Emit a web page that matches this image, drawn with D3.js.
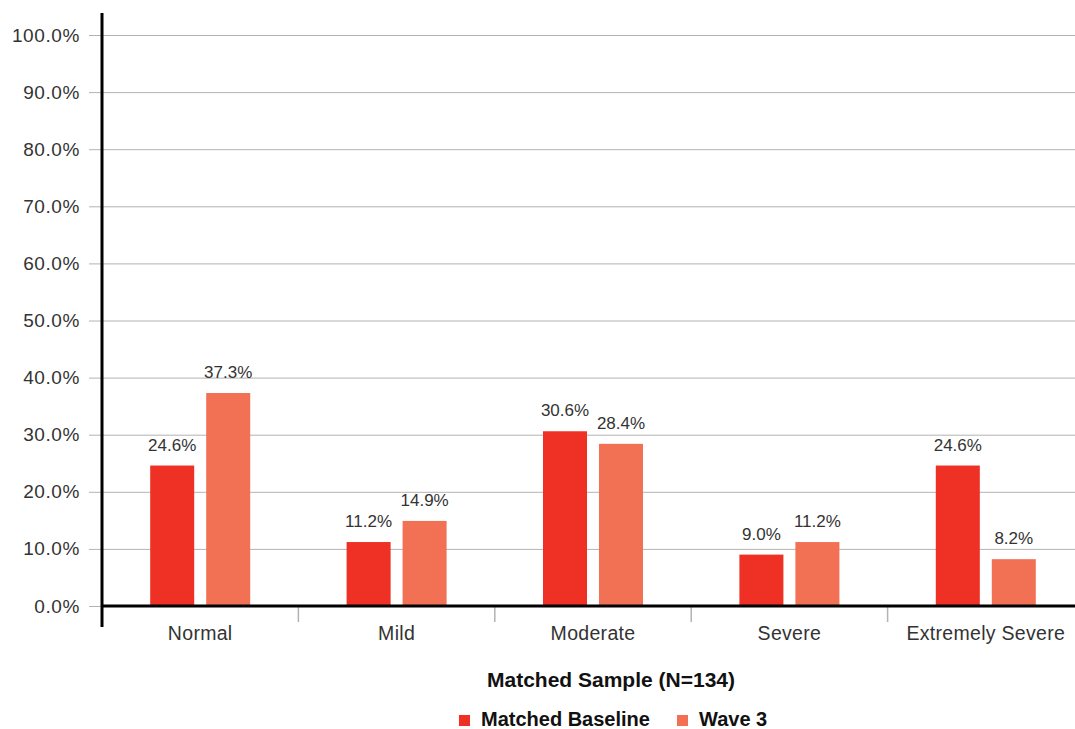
<!DOCTYPE html>
<html>
<head>
<meta charset="utf-8">
<script src="https://cdn.jsdelivr.net/npm/d3@7"></script>
<style>
  html, body { margin: 0; padding: 0; background: #fff; }
  svg { display: block; font-family: "Liberation Sans", Arial, sans-serif; }
</style>
</head>
<body>
<svg id="chart" width="1075" height="729"></svg>
<script>
// Depression severity distribution, matched sample
const categories = ["Normal", "Mild", "Moderate", "Severe", "Extremely Severe"];
const seriesNames = ["Matched Baseline", "Wave 3"];
const baselineValues = [24.6, 11.2, 30.6, 9.0, 24.6];
const wave3Values = [37.3, 14.9, 28.4, 11.2, 8.2];
const yTicks = [0, 10, 20, 30, 40, 50, 60, 70, 80, 90, 100];
const colors = ["#ee3124", "#f27155"];
const chartTitle = "Matched Sample (N=134)";

const svg = d3.select("#chart");
const margin = { left: 102, top: 35, bottom: 606 };
const plotRight = 1084;

const x = d3.scaleBand().domain(categories).range([margin.left, plotRight]).paddingInner(0).paddingOuter(0);
const xInner = d3.scaleBand().domain(seriesNames).range([x.bandwidth() / 2 - 50, x.bandwidth() / 2 + 50]).paddingInner(0.214).paddingOuter(0);
const y = d3.scaleLinear().domain([0, 100]).range([margin.bottom, margin.top]);

// Horizontal gridlines with outward tick stubs
const yAxis = d3.axisLeft(y).tickValues(yTicks).tickSize(-(1075 - margin.left)).tickPadding(9)
  .tickFormat(d => d.toFixed(1) + "%");
const gy = svg.append("g").attr("transform", `translate(${margin.left},0)`).call(yAxis);
gy.select(".domain").remove();
gy.selectAll(".tick line").attr("stroke", "#b3b3b3").attr("stroke-width", 1).attr("x1", -13);
gy.selectAll(".tick text").attr("x", -22).attr("fill", "#333").attr("font-size", 19)
  .attr("letter-spacing", 0.6);

// Category separators
const gx = svg.append("g").attr("transform", `translate(0,${margin.bottom})`);
gx.selectAll("line.sep").data(categories.slice(1)).join("line")
  .attr("class", "sep")
  .attr("x1", d => x(d)).attr("x2", d => x(d))
  .attr("y1", 0).attr("y2", 16)
  .attr("stroke", "#b3b3b3").attr("stroke-width", 1.5);
gx.selectAll("text.cat").data(categories).join("text")
  .attr("class", "cat")
  .attr("x", d => x(d) + x.bandwidth() / 2)
  .attr("y", 34)
  .attr("text-anchor", "middle")
  .attr("fill", "#333").attr("font-size", 19.5)
  .attr("letter-spacing", 0.3)
  .text(d => d);

// Bars
const rows = categories.map((c, i) => ({ cat: c, vals: [baselineValues[i], wave3Values[i]] }));
const groups = svg.append("g").selectAll("g").data(rows).join("g")
  .attr("transform", d => `translate(${x(d.cat)},0)`);
groups.selectAll("rect").data(d => d.vals.map((v, j) => ({ s: seriesNames[j], v, j }))).join("rect")
  .attr("x", d => xInner(d.s))
  .attr("width", xInner.bandwidth())
  .attr("y", d => y(d.v))
  .attr("height", d => y(0) - y(d.v))
  .attr("fill", d => colors[d.j]);
groups.selectAll("text").data(d => d.vals.map((v, j) => ({ s: seriesNames[j], v, j }))).join("text")
  .attr("x", d => xInner(d.s) + xInner.bandwidth() / 2)
  .attr("y", d => y(d.v) - 15)
  .attr("text-anchor", "middle")
  .attr("fill", "#333").attr("font-size", 17)
  .text(d => d.v.toFixed(1) + "%");

// Axis lines
svg.append("line").attr("x1", margin.left).attr("x2", 1075).attr("y1", y(0)).attr("y2", y(0))
  .attr("stroke", "#000").attr("stroke-width", 3);
svg.append("line").attr("x1", margin.left).attr("x2", margin.left).attr("y1", 13).attr("y2", 627)
  .attr("stroke", "#000").attr("stroke-width", 3);

// Title
svg.append("text").attr("x", 611).attr("y", 687).attr("text-anchor", "middle")
  .attr("font-weight", "bold").attr("font-size", 21).attr("fill", "#111").text(chartTitle);

// Legend
const legendX = [459, 677];
const lg = svg.append("g").selectAll("g").data(seriesNames).join("g")
  .attr("transform", (d, i) => `translate(${legendX[i]},715)`);
lg.append("rect").attr("width", 11).attr("height", 11).attr("fill", (d, i) => colors[i]);
lg.append("text").attr("x", 22).attr("y", 11).attr("font-weight", "bold").attr("font-size", 20)
  .attr("fill", "#111").text(d => d);
</script>
</body>
</html>
